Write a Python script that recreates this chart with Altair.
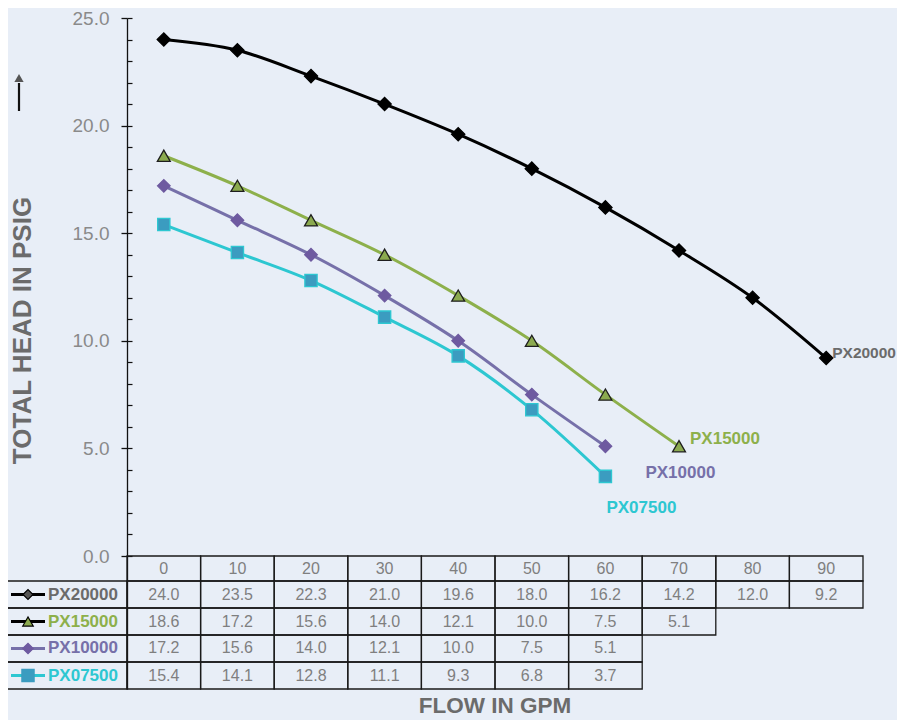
import altair as alt
import pandas as pd

# ---------------- data ----------------
FLOWS = [0, 10, 20, 30, 40, 50, 60, 70, 80, 90]
SERIES = ["PX20000", "PX15000", "PX10000", "PX07500"]
PX20000 = [24.0, 23.5, 22.3, 21.0, 19.6, 18.0, 16.2, 14.2, 12.0, 9.2]
PX15000 = [18.6, 17.2, 15.6, 14.0, 12.1, 10.0, 7.5, 5.1]
PX10000 = [17.2, 15.6, 14.0, 12.1, 10.0, 7.5, 5.1]
PX07500 = [15.4, 14.1, 12.8, 11.1, 9.3, 6.8, 3.7]
VALUES = [PX20000, PX15000, PX10000, PX07500]
Y_TICKS = [0, 5, 10, 15, 20, 25]

# ---------------- styles ----------------
FONT = "Liberation Sans"
BG = "#E8EEF7"
LINE_COLORS = ["#000000", "#8DB04B", "#7670A9", "#2DC7D1"]
MARK_FILLS = ["#000000", "#8BAA4F", "#6E5AA0", "#3B9CC0"]
MARK_STROKES = ["#000000", "#1E1E1E", "#6E5AA0", "#2DC7D1"]
MARK_SHAPES = ["diamond", "triangle-up", "diamond", "square"]
MARK_SIZES = [175, 150, 175, 190]
LABEL_COLORS = ["#6B6B6B", "#8DB04B", "#7670A9", "#2DC7D1"]
LEG_LINE_COLORS = ["#000000", "#000000", "#7670A9", "#2DC7D1"]
LEG_FILLS = ["#555555", "#8BAA4F", "#6E5AA0", "#3B9CC0"]
LEG_STROKES = ["#000000", "#000000", "#6E5AA0", "#3B9CC0"]
LEG_SIZES = [100, 110, 110, 150]
END_FONT = [15.5, 17, 17, 17]
END_DX = [6, 11, 40, 1]
END_DY = [-5, -7, 27, 32]
TEXT_GRAY = "#7F7F7F"
TITLE_GRAY = "#6B6B6B"

# table layout (y data units below zero, x data units left of -5)
HEADER_Y = -0.581
ROW_Y = [-1.789, -3.044, -4.298, -5.553]
ROW_EDGES = [0, -1.162, -2.416, -3.671, -4.926, -6.180]
TABLE_LEFT = -21.44

W, H = 736, 671
X_SCALE = alt.Scale(domain=[-5, 95], nice=False, zero=False)
Y_SCALE = alt.Scale(domain=[-6.180, 25], nice=False, zero=False)


def X(field):
    return alt.X(field, type="quantitative", scale=X_SCALE, axis=None)


def Y(field, axis=None):
    return alt.Y(field, type="quantitative", scale=Y_SCALE, axis=axis)


# ---------------- tables ----------------
recs = []
for i, (name, vals) in enumerate(zip(SERIES, VALUES)):
    for f, v in zip(FLOWS, vals):
        recs.append(dict(series=name, flow=f, head=v, rowy=ROW_Y[i], txt=f"{v:.1f}"))
df = pd.DataFrame(recs)

cells_geo = []
for f in FLOWS:
    cells_geo.append(dict(x1=f - 5, x2=f + 5, y1=ROW_EDGES[0], y2=ROW_EDGES[1]))
for i, vals in enumerate(VALUES):
    cells_geo.append(dict(x1=TABLE_LEFT, x2=-5, y1=ROW_EDGES[i + 1], y2=ROW_EDGES[i + 2]))
    for f in FLOWS[:len(vals)]:
        cells_geo.append(dict(x1=f - 5, x2=f + 5, y1=ROW_EDGES[i + 1], y2=ROW_EDGES[i + 2]))
geo_df = pd.DataFrame(cells_geo)

hdr_df = pd.DataFrame(dict(flow=FLOWS, y=[HEADER_Y] * len(FLOWS), txt=[str(f) for f in FLOWS]))

base = alt.Chart(df)

grid = alt.Chart(geo_df).mark_rect(fillOpacity=0, stroke="#1A1A1A", strokeWidth=1.3).encode(
    x=X("x1"), x2="x2", y=Y("y1"), y2="y2")
header = alt.Chart(hdr_df).mark_text(font=FONT, fontSize=16, color=TEXT_GRAY, baseline="middle").encode(
    x=X("flow"), y=Y("y"), text="txt:N")
cells = base.mark_text(font=FONT, fontSize=16, color=TEXT_GRAY, baseline="middle").encode(
    x=X("flow"), y=Y("rowy"), text="txt:N")

legend_layers = []
for i, name in enumerate(SERIES):
    ld = pd.DataFrame(dict(series=[name], rowy=[ROW_Y[i]]))
    lc = alt.Chart(ld)
    legend_layers.append(lc.mark_rule(color=LEG_LINE_COLORS[i], strokeWidth=3).encode(
        x=alt.value(-116), x2=alt.value(-82), y=Y("rowy")))
    legend_layers.append(lc.mark_point(shape=MARK_SHAPES[i], filled=True, fill=LEG_FILLS[i],
                                       stroke=LEG_STROKES[i], strokeWidth=1.2, size=LEG_SIZES[i],
                                       opacity=1).encode(x=alt.value(-99), y=Y("rowy")))
    legend_layers.append(lc.mark_text(font=FONT, fontSize=17, fontWeight="bold", color=LABEL_COLORS[i],
                                      align="left", baseline="middle").encode(
        x=alt.value(-79), y=Y("rowy"), text="series:N"))

# ---------------- curves ----------------
main_axis = alt.Axis(values=Y_TICKS, format=".1f", tickSize=6, tickColor="#111111", domainColor="#111111",
                     domainWidth=1.3, tickWidth=1.3, labelFont=FONT, labelFontSize=19, labelColor="#8A8A8A",
                     labelPadding=12, grid=False, orient="left",
                     title="TOTAL HEAD IN PSIG", titleFont=FONT, titleFontSize=26, titleFontWeight="bold",
                     titleColor=TITLE_GRAY, titleX=-105, titleY=312, titleAngle=270, titleAlign="center",
                     titleBaseline="middle")
minor_axis = alt.Axis(values=list(range(0, 26)), orient="right", offset=-W, labels=False, domain=False,
                      tickSize=5, tickColor="#111111", tickWidth=1.2, grid=False, title=None)

curves = base.mark_line(strokeWidth=3, interpolate="monotone").encode(
    x=X("flow"), y=Y("head", main_axis),
    color=alt.Color("series:N", scale=alt.Scale(domain=SERIES, range=LINE_COLORS), legend=None),
    detail="series:N")

markers = base.mark_point(filled=True, opacity=1, strokeWidth=1.3).encode(
    x=X("flow"), y=Y("head", minor_axis),
    shape=alt.Shape("series:N", scale=alt.Scale(domain=SERIES, range=MARK_SHAPES), legend=None),
    fill=alt.Fill("series:N", scale=alt.Scale(domain=SERIES, range=MARK_FILLS), legend=None),
    stroke=alt.Stroke("series:N", scale=alt.Scale(domain=SERIES, range=MARK_STROKES), legend=None),
    size=alt.Size("series:N", scale=alt.Scale(domain=SERIES, range=MARK_SIZES), legend=None))

end_layers = []
for i, (name, vals) in enumerate(zip(SERIES, VALUES)):
    ed = pd.DataFrame(dict(series=[name], flow=[FLOWS[len(vals) - 1]], head=[vals[-1]]))
    end_layers.append(alt.Chart(ed).mark_text(font=FONT, fontSize=END_FONT[i], fontWeight="bold",
                                              color=LABEL_COLORS[i], align="left", baseline="middle",
                                              dx=END_DX[i], dy=END_DY[i]).encode(
        x=X("flow"), y=Y("head"), text="series:N"))

arrow_df = pd.DataFrame(dict(a=[0]))
arrow_shaft = alt.Chart(arrow_df).mark_rule(color="#111111", strokeWidth=2.2).encode(
    x=alt.value(-108), y=alt.value(65), y2=alt.value(93))
arrow_head = alt.Chart(arrow_df).mark_point(shape="triangle-up", filled=True, color="#555555",
                                            size=85, opacity=1).encode(x=alt.value(-108), y=alt.value(60))

chart = alt.layer(
    grid, header, cells, *legend_layers, curves, markers, *end_layers, arrow_shaft, arrow_head
).resolve_axis(y="independent").properties(
    width=W, height=H,
    autosize=alt.AutoSizeParams(type="none"),
    padding={"left": 119, "top": 10, "right": 34, "bottom": 31},
    background=BG,
    title=alt.TitleParams("FLOW IN GPM", orient="bottom", anchor="middle", font=FONT, fontSize=22.5,
                          fontWeight="bold", color=TITLE_GRAY, offset=5, baseline="top"),
).configure_view(stroke=None)

chart.save("out.html", embed_options={"renderer": "svg", "actions": False})
